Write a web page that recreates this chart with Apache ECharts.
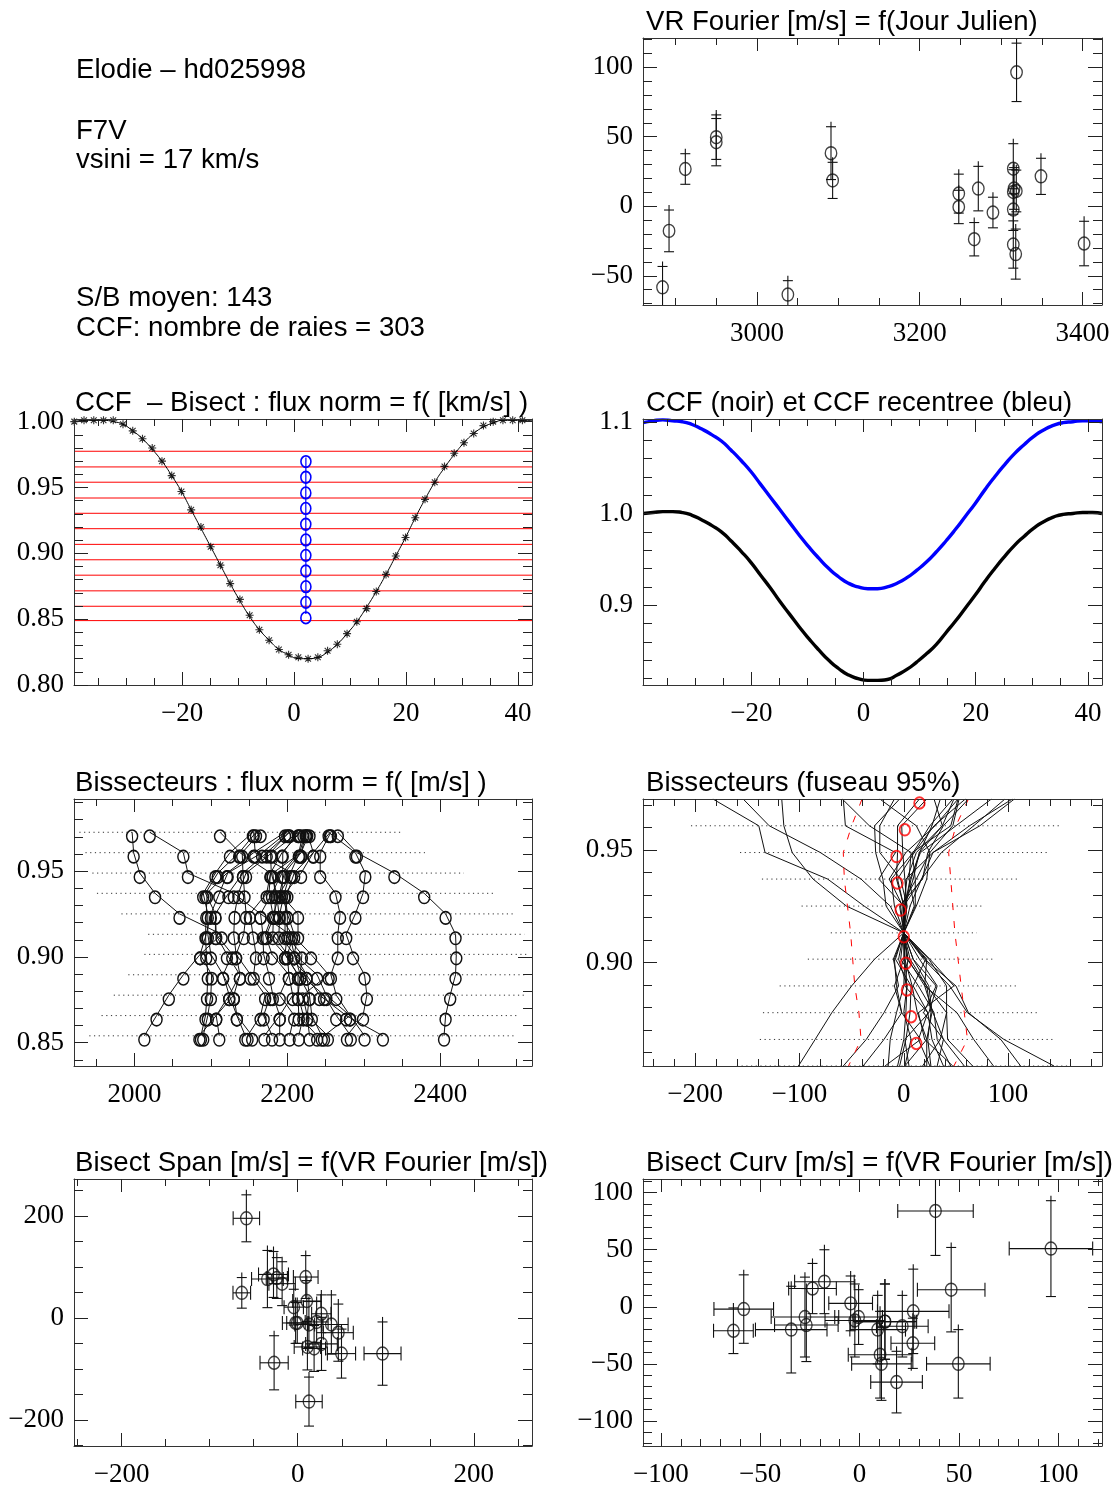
<!DOCTYPE html>
<html>
<head>
<meta charset="utf-8">
<title>Elodie - hd025998</title>
<script src="https://cdn.jsdelivr.net/npm/echarts@6/dist/echarts.min.js"></script>
<style>
html,body{margin:0;padding:0;background:#ffffff;}
#chart{width:1117px;height:1487px;}
</style>
</head>
<body>
<div id="chart"></div>
<script>
// ================= DATA =================
// Observations (panel 1, 6, 7)
const jd      = [2884, 2892, 2912, 2950, 2950, 3038, 3091, 3093, 3248, 3248, 3267, 3272, 3290, 3315, 3315, 3315, 3315, 3318, 3318.7, 3319, 3349, 3402, 3316];
const vr      = [-58.3, -17.7, 26.8, 49.7, 46.1, -63.5, 38.2, 18.6, 9.1, -0.5, -23.7, 12.7, -4.5, 27.0, 10.3, -2.4, -27.5, -34.4, 11.0, 96.3, 21.5, -26.8, 12.8];
const vrErr   = [15, 15, 11, 16, 17, 10, 19, 13, 14, 12, 12, 16, 11, 18, 16, 15, 17, 18, 15, 21, 13, 16, 15];
const span    = [195, 67, 8, -70, -29, 49, -13, -60, 80, -10, 78, -13, 21, -51, 33, -10, 85, 76, -57, -70, -8, -88, -164];
const spanErr = [46, 43, 37, 48, 56, 30, 58, 45, 42, 40, 40, 45, 35, 52, 40, 40, 45, 56, 45, 62, 40, 53, 48];
const curv    = [-2, 22, -32, -50, 15, -21, 84, -66, -20, -9, 16, -13, 3, -4, -42, -12, -9, -20, -50, 51, -17, -16, -13];
const curvErr = [30, 28, 22, 30, 37, 20, 39, 27, 30, 24, 22, 33, 24, 37, 38, 32, 35, 38, 32, 42, 27, 32, 33];

// CCF (panels 2, 3): velocity grid [km/s]
const velX    = [-39.25, -37.51, -35.77, -34.03, -32.29, -30.55, -28.81, -27.07, -25.33, -23.59, -21.85, -20.11, -18.37, -16.63, -14.89, -13.15,
                 -11.41, -9.67, -7.93, -6.19, -4.45, -2.71, -0.97, 0.77, 2.51, 4.25, 5.99, 7.73, 9.47, 11.21, 12.95, 14.69,
                 16.43, 18.17, 19.91, 21.65, 23.39, 25.13, 26.87, 28.61, 30.35, 32.09, 33.83, 35.57, 37.31, 39.05, 40.79, 42.50];
const ccfMoy  = [1.000, 1.001, 1.001, 1.001, 1.001, 0.998, 0.993, 0.987, 0.980, 0.970, 0.959, 0.947, 0.933, 0.920, 0.905, 0.891,
                 0.877, 0.865, 0.853, 0.842, 0.834, 0.827, 0.823, 0.821, 0.820, 0.821, 0.826, 0.831, 0.839, 0.848, 0.858, 0.871,
                 0.884, 0.898, 0.912, 0.927, 0.941, 0.954, 0.966, 0.976, 0.984, 0.991, 0.997, 1.000, 1.001, 1.001, 1.001];
const ccfFit  = [1.000, 1.001, 1.001, 1.001, 1.000, 0.998, 0.993, 0.987, 0.979, 0.970, 0.959, 0.947, 0.933, 0.919, 0.905, 0.891,
                 0.877, 0.864, 0.852, 0.842, 0.834, 0.827, 0.823, 0.820, 0.820, 0.821, 0.825, 0.831, 0.839, 0.848, 0.859, 0.871,
                 0.884, 0.898, 0.912, 0.927, 0.941, 0.954, 0.965, 0.975, 0.984, 0.991, 0.996, 0.999, 1.001, 1.001, 1.001, 1.001];
const ccfNoir = [1.000, 1.001, 1.002, 1.002, 1.001, 0.998, 0.993, 0.987, 0.980, 0.970, 0.959, 0.947, 0.933, 0.919, 0.904, 0.890,
                 0.876, 0.863, 0.851, 0.840, 0.831, 0.824, 0.820, 0.818, 0.818, 0.819, 0.824, 0.830, 0.838, 0.847, 0.857, 0.870,
                 0.883, 0.897, 0.911, 0.926, 0.940, 0.953, 0.965, 0.975, 0.984, 0.991, 0.996, 0.999, 1.000, 1.001, 1.001, 1.000];
const ccfBleu = [1.099, 1.101, 1.102, 1.101, 1.100, 1.097, 1.092, 1.086, 1.079, 1.069, 1.058, 1.046, 1.032, 1.018, 1.004, 0.990,
                 0.976, 0.963, 0.951, 0.940, 0.931, 0.924, 0.920, 0.918, 0.918, 0.920, 0.924, 0.930, 0.938, 0.947, 0.958, 0.970,
                 0.983, 0.997, 1.011, 1.026, 1.040, 1.053, 1.065, 1.075, 1.084, 1.091, 1.096, 1.099, 1.100, 1.101, 1.101, 1.100];
const redLevels = [0.9775, 0.9656, 0.9540, 0.9420, 0.9304, 0.9187, 0.9068, 0.8951, 0.8834, 0.8715, 0.8598, 0.8489];

// Bisector levels (normalised flux) and bisectors [m/s] (panels 2, 4, 5)
const levels  = [0.9727, 0.9608, 0.9489, 0.9371, 0.9251, 0.9132, 0.9015, 0.8896, 0.8777, 0.8658, 0.8540];
const blueX   = [2.12, 2.11, 2.10, 2.10, 2.10, 2.11, 2.11, 2.11, 2.12, 2.12, 2.11];
const bisect  = [
  [2197, 2156, 2121, 2095, 2094, 2093, 2094, 2096, 2095, 2093, 2087],
  [2200, 2167, 2122, 2111, 2100, 2094, 2086, 2101, 2100, 2096, 2090],
  [2155, 2125, 2106, 2090, 2096, 2096, 2100, 2116, 2124, 2134, 2154],
  [2203, 2173, 2142, 2123, 2106, 2106, 2121, 2138, 2130, 2107, 2111],
  [2159, 2137, 2109, 2093, 2106, 2107, 2128, 2116, 2130, 2134, 2145],
  [2214, 2180, 2146, 2136, 2131, 2130, 2133, 2152, 2171, 2165, 2148],
  [2165, 2141, 2142, 2144, 2146, 2143, 2133, 2138, 2124, 2107, 2085],
  [2217, 2193, 2178, 2173, 2151, 2155, 2159, 2156, 2178, 2169, 2180],
  [2221, 2215, 2193, 2180, 2165, 2168, 2169, 2176, 2181, 2190, 2190],
  [2112, 2138, 2178, 2176, 2181, 2171, 2180, 2202, 2190, 2209, 2203],
  [2225, 2218, 2181, 2184, 2184, 2173, 2197, 2214, 2214, 2215, 2239],
  [2229, 2218, 2196, 2190, 2182, 2181, 2200, 2225, 2242, 2277, 2325],
  [2224, 2216, 2204, 2196, 2190, 2189, 2209, 2239, 2251, 2282, 2301],
  [2226, 2234, 2209, 2200, 2197, 2197, 2219, 2217, 2248, 2264, 2283],
  [2215, 2194, 2194, 2193, 2200, 2200, 2197, 2214, 2229, 2232, 2245],
  [2202, 2178, 2179, 2186, 2189, 2206, 2231, 2254, 2220, 2226, 2253],
  [2256, 2234, 2218, 2197, 2200, 2209, 2200, 2202, 2207, 2190, 2170],
  [2156, 2158, 2206, 2190, 2214, 2214, 2209, 2217, 2214, 2221, 2215],
  [1997, 1999, 2007, 2027, 2059, 2114, 2086, 2064, 2045, 2029, 2013],
  [2020, 2064, 2070, 2130, 2165, 2203, 2209, 2225, 2229, 2226, 2229],
  [2254, 2289, 2302, 2299, 2289, 2277, 2286, 2301, 2304, 2299, 2278],
  [2257, 2243, 2243, 2263, 2269, 2266, 2266, 2257, 2264, 2282, 2248],
  [2266, 2291, 2340, 2379, 2407, 2420, 2421, 2420, 2413, 2407, 2405]
];
const dot4Lo  = [1928, 1936, 1945, 1951, 1983, 2018, 2013, 1992, 1973, 1957, 1941];
const dot4Hi  = [2349, 2380, 2431, 2472, 2497, 2510, 2514, 2511, 2511, 2500, 2497];
const dot5Lo  = [-250, -204, -157, -136, -98, -70, -92, -119, -135, -138, -160];
const dot5Hi  = [190, 149, 139, 109, 77, 70, 85, 108, 128, 144, 160];
const meanRel = [15, 1, -7, -6, -3, 0, 2, 3, 7, 12];
const fusL    = [-40, -50, -58, -57, -54, -51, -49, -47, -43, -41, -53];
const fusR    = [62, 50, 43, 45, 47, 49, 52, 55, 58, 61, 48];

// Tick labels
const p1XTicks = [3000, 3200, 3400],  p1YTicks = [-50, 0, 50, 100];
const p2XTicks = [-20, 0, 20, 40],    p2YTicks = [0.80, 0.85, 0.90, 0.95, 1.00];
const p3YTicks = [0.9, 1.0, 1.1];
const p4XTicks = [2000, 2200, 2400],  p4YTicks = [0.85, 0.90, 0.95];
const p5XTicks = [-200, -100, 0, 100], p5YTicks = [0.90, 0.95];
const p6XTicks = [-200, 0, 200],      p6YTicks = [-200, 0, 200];
const p7XTicks = [-100, -50, 0, 50, 100], p7YTicks = [-100, -50, 0, 50, 100];

// ================= HELPERS =================
const SANS = '"Liberation Sans", Arial, Helvetica, sans-serif';
const SERIF = '"Liberation Serif", "Times New Roman", Times, serif';
const FS_T = 27.6, FS_L = 27;
const BOX = '#333', TICK = '#222';
// closed ellipse outline (stretched to symbolSize)
const ELL = 'path://M0,-6C3.31,-6,6,-3.31,6,0C6,3.31,3.31,6,0,6C-3.31,6,-6,3.31,-6,0C-6,-3.31,-3.31,-6,0,-6Z';
const STAR = 'path://M0,-5L0,5M-5,0L5,0M-3.6,-3.6L3.6,3.6M-3.6,3.6L3.6,-3.6';
function steps(a, b, s) { const r = []; for (let i = 0; a + i * s <= b + s * 1e-6; i++) r.push(+(a + i * s).toFixed(6)); return r; }
function fmt(v, d) { return Number(v).toFixed(d).replace('-', '\u2212'); }

const grids = [], xAxes = [], yAxes = [], series = [];
function panel(box, xr, yr, o) {
  const gi = grids.length;
  grids.push({left: box[0], top: box[1], width: box[2], height: box[3], containLabel: false, outerBoundsMode: 'none', show: false});
  const base = (pos, r) => ({gridIndex: gi, type: 'value', position: pos, min: r[0], max: r[1],
    splitLine: {show: false}, splitArea: {show: false}, minorTick: {show: false}, minorSplitLine: {show: false},
    axisPointer: {show: false}, silent: true, z: 5});
  const aline = show => ({show: show, onZero: false, lineStyle: {color: BOX, width: 1}});
  const atick = (vals, len) => ({show: true, inside: true, length: len, customValues: vals, lineStyle: {color: TICK, width: 1}});
  const alab = (vals, dec, margin) => vals ? {show: true, customValues: vals, margin: margin, color: '#000',
    fontFamily: SERIF, fontSize: FS_L, formatter: v => fmt(v, dec)} : {show: false};
  const xi = xAxes.length, yi = yAxes.length;
  xAxes.push(Object.assign(base('bottom', xr), {axisLine: aline(true),  axisTick: atick(o.xMaj, 13), axisLabel: alab(o.xMaj, o.xDec || 0, 15)}));
  xAxes.push(Object.assign(base('bottom', xr), {axisLine: aline(false), axisTick: atick(o.xMin, 7),  axisLabel: alab(null)}));
  xAxes.push(Object.assign(base('top', xr),    {axisLine: aline(true),  axisTick: atick(o.xMaj, 13), axisLabel: alab(null)}));
  xAxes.push(Object.assign(base('top', xr),    {axisLine: aline(false), axisTick: atick(o.xMin, 7),  axisLabel: alab(null)}));
  yAxes.push(Object.assign(base('left', yr),   {axisLine: aline(true),  axisTick: atick(o.yMaj, 14), axisLabel: alab(o.yMaj, o.yDec || 0, 10)}));
  yAxes.push(Object.assign(base('left', yr),   {axisLine: aline(false), axisTick: atick(o.yMin, 9),  axisLabel: alab(null)}));
  yAxes.push(Object.assign(base('right', yr),  {axisLine: aline(true),  axisTick: atick(o.yMaj, 14), axisLabel: alab(null)}));
  yAxes.push(Object.assign(base('right', yr),  {axisLine: aline(false), axisTick: atick(o.yMin, 9),  axisLabel: alab(null)}));
  return {x: xi, y: yi, xr: xr, yr: yr};
}
function errBar(params, api) {
  const x = api.value(0), y = api.value(1), ey = api.value(2), ex = api.value(3);
  const t = api.coord([x, y + ey]), b = api.coord([x, y - ey]);
  const st = {stroke: '#111', lineWidth: 1.1, fill: null};
  const ch = [
    {type: 'line', shape: {x1: t[0], y1: t[1] - 5, x2: b[0], y2: b[1]}, style: st},
    {type: 'line', shape: {x1: t[0] - 5, y1: t[1], x2: t[0] + 5, y2: t[1]}, style: st},
    {type: 'line', shape: {x1: b[0] - 5, y1: b[1], x2: b[0] + 5, y2: b[1]}, style: st}
  ];
  if (ex > 0) {
    const l = api.coord([x - ex, y]), r = api.coord([x + ex, y]);
    ch.push({type: 'line', shape: {x1: l[0], y1: l[1], x2: r[0], y2: r[1]}, style: st});
    ch.push({type: 'line', shape: {x1: l[0], y1: l[1] - 7, x2: l[0], y2: l[1] + 7}, style: st});
    ch.push({type: 'line', shape: {x1: r[0], y1: r[1] - 7, x2: r[0], y2: r[1] + 7}, style: st});
  }
  return {type: 'group', children: ch};
}
function segRender(color, dash, width) {
  return function (params, api) {
    const a = api.coord([api.value(0), api.value(1)]);
    const b = api.coord([api.value(2), api.value(1)]);
    return {type: 'line', shape: {x1: a[0], y1: a[1], x2: b[0], y2: b[1]},
      style: {stroke: color, lineWidth: width, lineDash: dash, fill: null}};
  };
}
const hollow = (c, w) => ({color: 'rgba(0,0,0,0)', borderColor: c, borderWidth: w});
const ax = p => ({xAxisIndex: p.x, yAxisIndex: p.y, silent: true, animation: false});

// ================= PANELS =================
// 1. VR Fourier = f(Jour Julien)
const p1 = panel([643, 38, 459, 267], [2860, 3424], [-71, 121],
  {xMaj: p1XTicks, xMin: steps(2900, 3400, 50), yMaj: p1YTicks, yMin: steps(-70, 120, 10)});
series.push(Object.assign(ax(p1), {type: 'custom', clip: true, renderItem: errBar, encode: {x: 0, y: 1},
  data: jd.map((t, i) => [t, vr[i], vrErr[i], 0]), z: 3}));
series.push(Object.assign(ax(p1), {type: 'scatter', symbol: ELL, symbolSize: [11.5, 13],
  itemStyle: hollow('#111', 1.4), data: jd.map((t, i) => [t, vr[i]]), z: 4}));

// 2. CCF - Bisect
const p2 = panel([74, 419, 458, 266], [-39.3, 42.5], [0.80, 1.002],
  {xMaj: p2XTicks, xMin: steps(-35, 40, 5), yMaj: p2YTicks, yMin: steps(0.80, 1.00, 0.01), yDec: 2});
series.push(Object.assign(ax(p2), {type: 'custom', clip: true, renderItem: segRender('#ff0000', null, 1), encode: {x: [0, 2], y: 1},
  data: redLevels.map(y => [p2.xr[0], y, p2.xr[1]]), z: 2}));
series.push(Object.assign(ax(p2), {type: 'line', showSymbol: false, smooth: 0.5, lineStyle: {color: '#000', width: 1},
  data: velX.map((v, i) => [v, ccfFit[i]]), z: 3}));
series.push(Object.assign(ax(p2), {type: 'scatter', symbol: STAR, symbolSize: 8, itemStyle: hollow('#000', 1.1),
  data: ccfMoy.map((y, i) => [velX[i], y]), z: 4}));
series.push(Object.assign(ax(p2), {type: 'line', symbol: ELL, symbolSize: [10, 11.5], symbolOffset: [0, 4], showSymbol: true,
  lineStyle: {color: '#0000ff', width: 1.2}, itemStyle: hollow('#0000ff', 1.7),
  data: blueX.map((v, k) => [v, levels[k]]), z: 5}));

// 3. CCF (noir) et CCF recentree (bleu)
const p3 = panel([643, 419, 459, 266], [-39.3, 42.5], [0.813, 1.103],
  {xMaj: p2XTicks, xMin: steps(-35, 40, 5), yMaj: p3YTicks, yMin: steps(0.82, 1.10, 0.02), yDec: 1});
series.push(Object.assign(ax(p3), {type: 'line', showSymbol: false, smooth: 0.6, lineStyle: {color: '#000', width: 3.4},
  data: velX.map((v, i) => [v, ccfNoir[i]]), z: 3}));
series.push(Object.assign(ax(p3), {type: 'line', showSymbol: false, smooth: 0.6, lineStyle: {color: '#0000ff', width: 3.4},
  data: velX.map((v, i) => [v, ccfBleu[i]]), z: 3}));

// 4. Bissecteurs : flux norm = f([m/s])
const p4 = panel([74, 799, 458, 267], [1921, 2520], [0.8364, 0.9921],
  {xMaj: p4XTicks, xMin: steps(1950, 2500, 50), yMaj: p4YTicks, yMin: steps(0.84, 0.99, 0.01), yDec: 2});
series.push(Object.assign(ax(p4), {type: 'custom', clip: true, renderItem: segRender('#333', [1.2, 3.5], 1), encode: {x: [0, 2], y: 1},
  data: levels.map((y, k) => [dot4Lo[k], y, dot4Hi[k]]), z: 2}));
bisect.forEach(b => series.push(Object.assign(ax(p4), {type: 'line', symbol: ELL, symbolSize: [11, 12.5], symbolOffset: [0, 4],
  showSymbol: true, lineStyle: {color: '#111', width: 1}, itemStyle: hollow('#111', 1.5),
  data: b.map((v, k) => [v, levels[k]]), z: 3})));

// 5. Bissecteurs (fuseau 95%)
const p5 = panel([643, 799, 459, 267], [-250, 190], [0.8540, 0.9727],
  {xMaj: p5XTicks, xMin: steps(-240, 180, 20), yMaj: p5YTicks, yMin: steps(0.86, 0.97, 0.01), yDec: 2});
series.push(Object.assign(ax(p5), {type: 'custom', clip: true, renderItem: segRender('#333', [1.2, 3.5], 1), encode: {x: [0, 2], y: 1},
  data: levels.map((y, k) => [dot5Lo[k], y, dot5Hi[k]]), z: 2}));
bisect.forEach(b => series.push(Object.assign(ax(p5), {type: 'line', showSymbol: false, lineStyle: {color: '#111', width: 1},
  data: b.map((v, k) => [v - b[5], levels[k]]), z: 3})));
series.push(Object.assign(ax(p5), {type: 'line', showSymbol: false, lineStyle: {color: '#ff0000', width: 1, type: [7, 11]},
  data: fusL.map((v, k) => [v, levels[k]]), z: 4}));
series.push(Object.assign(ax(p5), {type: 'line', showSymbol: false, lineStyle: {color: '#ff0000', width: 1, type: [7, 11]},
  data: fusR.map((v, k) => [v, levels[k]]), z: 4}));
series.push(Object.assign(ax(p5), {type: 'scatter', symbol: ELL, symbolSize: [10.5, 11.5], symbolOffset: [0, 4],
  itemStyle: hollow('#ff0000', 1.9), data: meanRel.map((v, k) => [v, levels[k]]), z: 5}));

// 6. Bisect Span = f(VR)
const p6 = panel([74, 1179, 458, 267], [-254, 266], [-251, 272],
  {xMaj: p6XTicks, xMin: steps(-250, 250, 50), yMaj: p6YTicks, yMin: steps(-250, 250, 50)});
series.push(Object.assign(ax(p6), {type: 'custom', clip: true, renderItem: errBar, encode: {x: 0, y: 1},
  data: vr.map((v, i) => [v, span[i], spanErr[i], vrErr[i]]), z: 3}));
series.push(Object.assign(ax(p6), {type: 'scatter', symbol: ELL, symbolSize: [11.5, 13], itemStyle: hollow('#111', 1.4),
  data: vr.map((v, i) => [v, span[i]]), z: 4}));

// 7. Bisect Curv = f(VR)
const p7 = panel([643, 1179, 459, 267], [-109, 122], [-122, 112],
  {xMaj: p7XTicks, xMin: steps(-100, 120, 10), yMaj: p7YTicks, yMin: steps(-120, 110, 10)});
series.push(Object.assign(ax(p7), {type: 'custom', clip: true, renderItem: errBar, encode: {x: 0, y: 1},
  data: vr.map((v, i) => [v, curv[i], curvErr[i], vrErr[i]]), z: 3}));
series.push(Object.assign(ax(p7), {type: 'scatter', symbol: ELL, symbolSize: [11.5, 13], itemStyle: hollow('#111', 1.4),
  data: vr.map((v, i) => [v, curv[i]]), z: 4}));

// ================= TEXTS =================
const texts = [
  ['Elodie \u2013 hd025998', 76, 80], ['F7V', 76, 141], ['vsini = 17 km/s', 76, 170],
  ['S/B moyen: 143', 76, 308], ['CCF: nombre de raies = 303', 76, 338],
  ['VR Fourier [m/s] = f(Jour Julien)', 646, 32.5],
  ['CCF  \u2013 Bisect : flux norm = f( [km/s] )', 75, 413],
  ['CCF (noir) et CCF recentree (bleu)', 646, 413],
  ['Bissecteurs : flux norm = f( [m/s] )', 75, 793],
  ['Bissecteurs (fuseau 95%)', 646, 793],
  ['Bisect Span [m/s] = f(VR Fourier [m/s])', 75, 1173],
  ['Bisect Curv [m/s] = f(VR Fourier [m/s])', 646, 1173]
];
const graphic = texts.map(t => ({type: 'text', x: t[1], y: t[2] - 0.35 * FS_T, silent: true, z: 100,
  style: {text: t[0], font: FS_T + 'px ' + SANS, fill: '#000', align: 'left', verticalAlign: 'middle',
          textAlign: 'left', textVerticalAlign: 'middle'}}));

const chart = echarts.init(document.getElementById('chart'), null, {renderer: 'canvas'});
chart.setOption({
  backgroundColor: '#ffffff',
  animation: false,
  grid: grids, xAxis: xAxes, yAxis: yAxes, series: series, graphic: graphic
});
</script>
</body>
</html>
